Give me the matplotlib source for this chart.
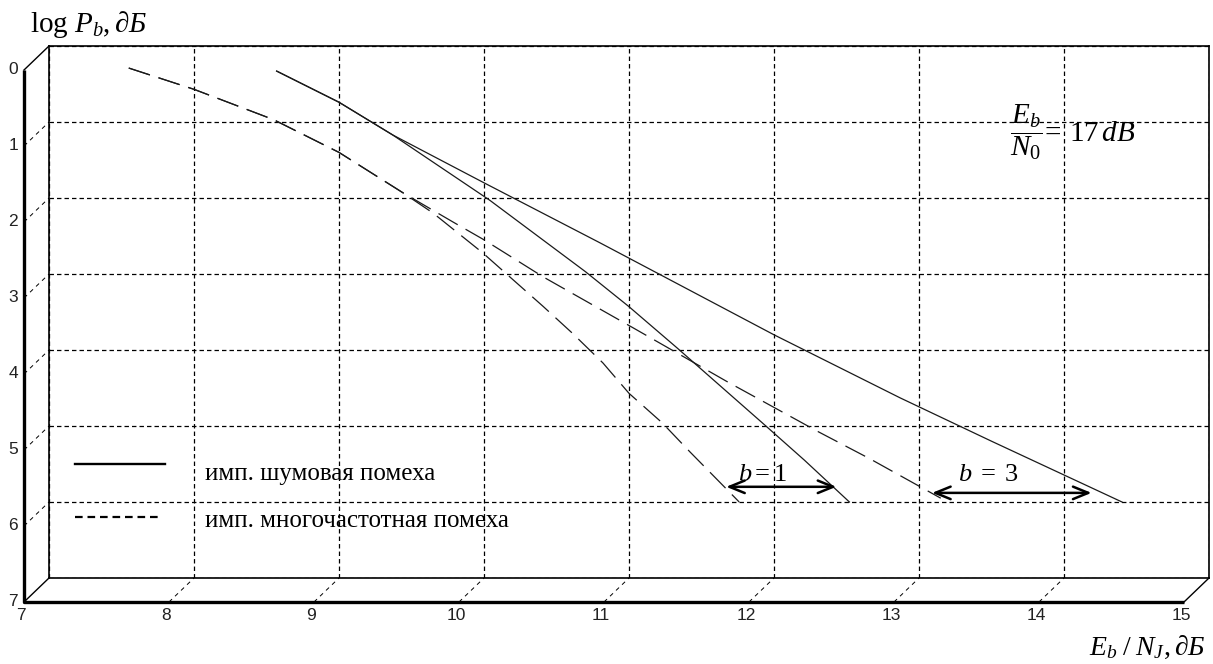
import matplotlib
matplotlib.use("Agg")
import matplotlib.pyplot as plt

plt.rcParams["mathtext.fontset"] = "custom"
plt.rcParams["mathtext.rm"] = "Liberation Serif"
plt.rcParams["mathtext.it"] = "Liberation Serif:italic"
plt.rcParams["mathtext.bf"] = "Liberation Serif:bold"
plt.rcParams["lines.scale_dashes"] = False

# data: Eb/NJ in dB, log Pb
x_b3_solid = [8.57, 9.0, 9.37, 10.0, 10.8, 12.0, 12.87, 13.5, 14.4]
y_b3_solid = [0.33, 0.74, 1.17, 1.8, 2.59, 3.80, 4.63, 5.2, 6.0]
x_b1_solid = [8.57, 9.0, 9.37, 10.04, 10.70, 11.0, 11.33, 11.95, 12.21, 12.52]
y_b1_solid = [0.33, 0.74, 1.17, 2.03, 2.97, 3.43, 3.97, 5.01, 5.45, 6.0]
x_b3_dash = [7.55, 8.0, 8.55, 9.0, 9.44, 9.79, 10.0, 10.41, 11.03, 11.68, 12.3, 12.66, 13.15]
y_b3_dash = [0.29, 0.57, 0.97, 1.4, 1.93, 2.32, 2.55, 3.04, 3.71, 4.42, 5.07, 5.43, 5.95]
x_b1_dash = [7.55, 8.0, 8.55, 9.0, 9.44, 9.65, 9.99, 10.41, 10.61, 10.82, 11.0, 11.23, 11.42, 11.76]
y_b1_dash = [0.29, 0.57, 0.97, 1.4, 1.93, 2.2, 2.72, 3.43, 3.78, 4.17, 4.57, 4.96, 5.34, 6.0]

x_ticks = list(range(7, 16))
y_ticks = list(range(0, 8))
legend_labels = ["имп. шумовая помеха", "имп. многочастотная помеха"]

W, H = 1213, 664
fig = plt.figure(figsize=(W / 100, H / 100), dpi=100)


def fx(px):
    return px / W


def fy(py):
    return 1 - py / H


# back plane (grid wall) in pixels
BX0, BX1, BY0, BY1 = 49, 1209, 46, 578
ax = fig.add_axes([fx(BX0), fy(BY1), fx(BX1 - BX0), (BY1 - BY0) / H])
ax.set_xlim(7, 15)
ax.set_ylim(7, 0)
ax.set_xticks(x_ticks)
ax.set_yticks(y_ticks)
ax.tick_params(length=0, labelbottom=False, labelleft=False)
ax.grid(True, color="k", lw=0.9, ls=(0, (3.2, 2.2)))
for s in ax.spines.values():
    s.set_linewidth(1.2)

# offset of the front frame, data units
DX = -25 / ((BX1 - BX0) / 8)
DY = 24 / ((BY1 - BY0) / 7)

# front frame
ax.plot([7 + DX, 7 + DX, 15 + DX], [0 + DY, 7 + DY, 7 + DY],
        color="k", lw=2.4, clip_on=False, solid_capstyle="butt")
for cx, cy in [(7, 0), (7, 7), (15, 7)]:
    ax.plot([cx + DX, cx], [cy + DY, cy], color="k", lw=1.0, clip_on=False)
for yt in y_ticks[1:-1]:
    ax.plot([7 + DX, 7], [yt + DY, yt], color="k", lw=0.7,
            ls=(0, (3, 3)), clip_on=False)
for xt in x_ticks[1:-1]:
    ax.plot([xt + DX, xt], [7 + DY, 7], color="k", lw=0.7,
            ls=(0, (3, 3)), clip_on=False)

tick_font = dict(family="Liberation Sans", fontsize=12.5, color="#222")
for yt in y_ticks:
    ax.text(7 + DX - 0.04, yt + DY, str(yt), ha="right", va="center", **tick_font)
for xt in x_ticks:
    ax.text(xt + DX - 0.02, 7 + DY + 0.08, str(xt), ha="center", va="top", **tick_font)

# curves
curve_kw = dict(color="#1a1a1a", lw=0.9, clip_on=False)
dash = (0, (16, 6.5))
ax.plot(x_b3_solid, y_b3_solid, **curve_kw)
ax.plot(x_b1_solid, y_b1_solid, **curve_kw)
ax.plot(x_b3_dash, y_b3_dash, ls=dash, **curve_kw)
ax.plot(x_b1_dash, y_b1_dash, ls=dash, **curve_kw)

# arrows with b labels
arrow_kw = dict(arrowstyle="<->,head_length=1.1,head_width=0.45", lw=1.8,
                color="k", shrinkA=0, shrinkB=0)
ax.annotate("", xy=(12.43, 5.80), xytext=(11.67, 5.80), arrowprops=arrow_kw)
ax.annotate("", xy=(14.19, 5.88), xytext=(13.09, 5.88), arrowprops=arrow_kw)
ax.text(11.92, 5.63, r"$b=1$", ha="center", va="center", fontsize=19)
ax.text(13.48, 5.63, r"$b\;=\;3$", ha="center", va="center", fontsize=19)

ax.text(13.63, 1.26, r"$\dfrac{E_b}{N_0}\!=\,17\,dB$", ha="left", va="baseline",
        fontsize=21)

# legend drawn on the wall
ax.plot([7.18, 7.80], [5.50, 5.50], color="k", lw=1.7)
ax.plot([7.18, 7.77], [6.20, 6.20], color="k", lw=1.6, ls=(0, (5.5, 3.5)))
ax.text(8.076, 5.71, legend_labels[0], ha="left", va="baseline",
        family="Liberation Serif", fontsize=18)
ax.text(8.076, 6.33, legend_labels[1], ha="left", va="baseline",
        family="Liberation Serif", fontsize=18)

# axis titles
fig.text(fx(30), fy(32), r"$\log\,P_b,\partial\mathit{Б}$", ha="left",
         va="baseline", fontsize=21)
fig.text(fx(1206), fy(655), r"$E_b\;/\;N_J,\partial\mathit{Б}$", ha="right",
         va="baseline", fontsize=20)

fig.savefig("out.png", dpi=100)
